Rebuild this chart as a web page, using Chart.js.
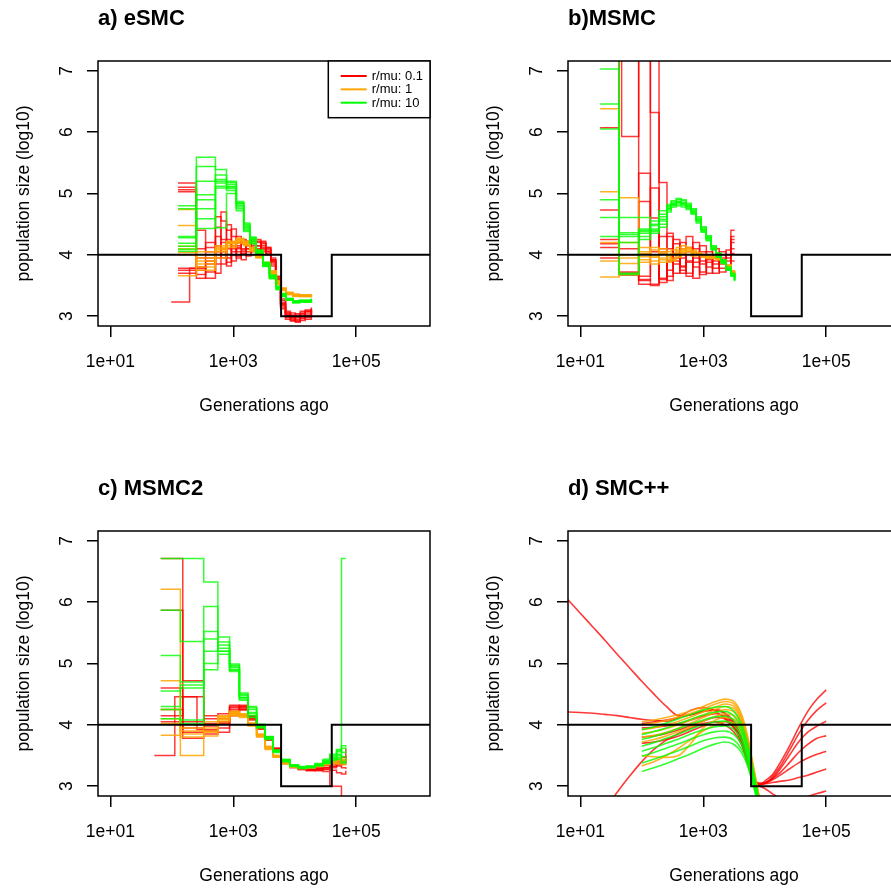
<!DOCTYPE html>
<html lang="en">
<head>
<meta charset="UTF-8">
<title>Inferred population size, four methods</title>
<script src="https://cdn.jsdelivr.net/npm/chart.js"></script>
<style>
  html, body { margin: 0; padding: 0; background: #fff; overflow: hidden; }
  body { width: 891px; height: 888px; position: relative; }
  canvas { position: absolute; }
</style>
</head>
<body>
<canvas id="pa" width="445" height="444" style="left:0;top:0"></canvas>
<canvas id="pb" width="445" height="444" style="left:470px;top:0"></canvas>
<canvas id="pc" width="445" height="444" style="left:0;top:470px"></canvas>
<canvas id="pd" width="445" height="444" style="left:470px;top:470px"></canvas>
<script>
// axes
const xTicks = [10, 1000, 100000];
const xTickLabels = ['1e+01', '1e+03', '1e+05'];
const yTicks = [3, 4, 5, 6, 7];
const xRange = [6.3096, 1584893];
const yRange = [2.84, 7.16];

// simulated history (log10 size): 10^4, bottleneck of 10^3, back to 10^4
const trueTimes = [1, 6000, 40000, 1e7];
const trueSizes = [4, 3, 4, 4];

const legendLabels = ['r/mu: 0.1', 'r/mu: 1', 'r/mu: 10'];
const legendColors = ['#ff0000', '#ffa500', '#00ff00'];

// ---- a) eSMC ----
const aTimes = [126, 251, 513, 776, 1122, 1479, 1862, 2344, 3020, 3890, 5012, 6026, 7244, 9333, 12023, 18621];
const aRedTimes = [126, 251, 355, 513, 631, 776, 933, 1122, 1349, 1622, 1950, 2344, 2818, 3388, 4074, 4898, 5888, 7079, 8511, 10233, 12303, 14791, 18621];
const aRedEarlyTimes = [98, 195, 355, 513, 631, 776, 933, 1122, 1349, 1622, 1950, 2344, 2818, 3388, 4074, 4898, 5888, 7079, 8511, 10233, 12303, 14791, 18621];
const aRed = [
  [5.17, 3.75, 3.90, 4.62, 4.55, 4.20, 4.05, 4.15, 4.20, 4.10, 4.18, 4.22, 4.12, 4.05, 3.90, 3.62, 3.22, 3.02, 2.95, 2.92, 3.00, 3.05, 3.10],
  [5.10, 4.40, 4.05, 3.85, 4.10, 4.49, 4.30, 3.95, 4.05, 4.22, 4.08, 4.15, 4.18, 4.00, 3.85, 3.58, 3.18, 3.05, 2.98, 3.02, 2.93, 3.08, 3.12],
  [5.03, 3.68, 3.72, 4.05, 4.70, 4.40, 3.90, 4.20, 4.10, 3.98, 4.25, 4.08, 4.20, 4.08, 3.95, 3.65, 3.25, 2.98, 3.05, 2.90, 3.05, 2.98, 3.06],
  [3.78, 4.10, 4.20, 3.70, 3.85, 4.10, 4.42, 4.05, 3.92, 4.15, 4.12, 4.20, 4.05, 4.12, 3.88, 3.55, 3.15, 3.08, 2.92, 3.00, 3.08, 2.95, 3.14],
  [3.75, 3.80, 3.62, 3.95, 4.20, 3.82, 4.15, 4.30, 4.18, 4.05, 4.00, 4.25, 4.15, 4.02, 3.92, 3.60, 3.20, 3.00, 3.02, 2.95, 2.98, 3.02, 3.08],
  [5.06, 3.62, 3.85, 4.45, 4.25, 3.95, 4.00, 4.10, 4.25, 4.18, 4.05, 4.10, 4.22, 4.10, 3.82, 3.52, 3.12, 2.95, 3.00, 3.04, 2.96, 3.10, 3.04],
  [3.70, 3.95, 4.12, 4.30, 3.95, 4.25, 4.10, 3.98, 4.08, 4.20, 4.15, 4.05, 4.10, 4.05, 3.90, 3.64, 3.28, 3.05, 2.97, 2.92, 3.02, 3.00, 3.10]
];
const aRedEarly = [3.23, 3.78, 3.95, 4.15, 4.05, 3.88, 4.20, 4.12, 4.02, 4.10, 4.22, 4.15, 4.08, 4.12, 3.92, 3.60, 3.20, 3.02, 2.93, 2.98, 3.04, 3.08, 3.12];
const aOrange = [
  [4.74, 3.95, 4.10, 4.20, 4.26, 4.20, 4.10, 3.99, 3.86, 3.72, 3.56, 3.45, 3.38, 3.35, 3.34, 3.35],
  [4.48, 3.85, 4.05, 4.18, 4.23, 4.18, 4.08, 3.97, 3.84, 3.70, 3.54, 3.44, 3.37, 3.34, 3.33, 3.34],
  [4.14, 4.05, 4.15, 4.22, 4.27, 4.22, 4.12, 4.01, 3.88, 3.74, 3.58, 3.46, 3.39, 3.36, 3.35, 3.36],
  [4.00, 3.80, 4.00, 4.15, 4.21, 4.17, 4.07, 3.96, 3.83, 3.69, 3.53, 3.43, 3.36, 3.33, 3.32, 3.33],
  [3.66, 3.90, 4.08, 4.19, 4.24, 4.19, 4.09, 3.98, 3.85, 3.71, 3.55, 3.44, 3.37, 3.34, 3.33, 3.34],
  [4.10, 4.00, 4.12, 4.21, 4.25, 4.21, 4.11, 4.00, 3.87, 3.73, 3.57, 3.45, 3.38, 3.35, 3.34, 3.35],
  [4.04, 3.75, 3.95, 4.12, 4.19, 4.15, 4.06, 3.95, 3.82, 3.68, 3.52, 3.42, 3.35, 3.32, 3.32, 3.33]
];
const aGreen = [
  [4.80, 5.59, 5.39, 5.20, 4.87, 4.50, 4.28, 4.07, 3.87, 3.66, 3.48, 3.36, 3.29, 3.25, 3.25, 3.27],
  [4.30, 5.44, 5.17, 5.15, 4.84, 4.46, 4.25, 4.05, 3.85, 3.64, 3.46, 3.34, 3.27, 3.23, 3.24, 3.26],
  [4.14, 4.98, 5.23, 5.10, 4.80, 4.42, 4.22, 4.03, 3.83, 3.62, 3.45, 3.33, 3.26, 3.22, 3.23, 3.25],
  [4.06, 4.75, 5.20, 5.05, 4.78, 4.44, 4.24, 4.06, 3.86, 3.65, 3.47, 3.35, 3.28, 3.24, 3.26, 3.28],
  [4.19, 4.59, 5.12, 5.12, 4.83, 4.48, 4.27, 4.04, 3.84, 3.63, 3.47, 3.36, 3.29, 3.25, 3.26, 3.29],
  [4.75, 4.43, 5.09, 5.08, 4.72, 4.40, 4.20, 4.02, 3.82, 3.62, 3.44, 3.33, 3.27, 3.23, 3.24, 3.27],
  [4.09, 4.90, 4.44, 5.00, 4.75, 4.38, 4.18, 4.01, 3.81, 3.61, 3.43, 3.32, 3.26, 3.22, 3.23, 3.25],
  [4.28, 5.20, 5.30, 5.18, 4.85, 4.52, 4.29, 4.08, 3.88, 3.67, 3.49, 3.37, 3.28, 3.24, 3.25, 3.28]
];

// ---- b) MSMC ----
const bTimes = [21, 43, 89, 138, 191, 257, 301, 363, 439, 528, 637, 769, 927, 1119, 1349, 1626, 1959, 2366, 2851, 3228];
const bRedTimes = [21, 43, 47, 89, 138, 191, 257, 324, 417, 525, 676, 871, 1122, 1413, 1820, 2344, 2818, 3236];
const bRed = [
  [6.07, 9.00, 5.93, 9.00, 6.32, 5.18, 4.30, 3.85, 4.10, 3.70, 3.95, 4.15, 3.80, 3.90, 4.05, 3.75, 4.40, 4.40],
  [4.73, 3.68, 3.68, 5.33, 4.05, 3.55, 3.90, 4.25, 3.70, 4.05, 3.62, 4.00, 3.88, 4.10, 3.78, 3.95, 4.20, 4.20],
  [4.18, 3.70, 3.70, 4.87, 4.60, 3.60, 4.35, 3.70, 3.95, 4.30, 3.80, 3.72, 4.05, 3.85, 4.00, 3.90, 4.10, 4.10],
  [4.12, 3.67, 3.67, 3.52, 3.50, 4.05, 3.58, 4.18, 3.80, 3.90, 4.10, 3.68, 3.95, 3.78, 3.92, 3.82, 4.30, 4.30],
  [4.00, 3.72, 3.72, 3.65, 5.09, 3.62, 4.10, 3.90, 4.20, 3.65, 3.88, 4.05, 3.70, 4.00, 3.85, 4.00, 4.02, 4.02],
  [3.95, 4.10, 4.10, 3.60, 3.52, 4.30, 3.75, 3.95, 3.82, 4.12, 4.00, 3.85, 3.92, 3.70, 3.95, 3.80, 3.90, 3.90],
  [4.25, 9.00, 9.00, 3.58, 9.00, 4.10, 3.65, 4.02, 3.75, 3.88, 4.20, 3.90, 4.00, 3.95, 3.72, 4.08, 4.25, 4.25]
];
const bOrange = [
  [6.38, 4.93, 4.05, 3.98, 3.92, 3.95, 4.00, 4.05, 4.08, 4.06, 4.02, 4.00, 3.97, 3.95, 3.96, 3.93, 3.90, 3.82, 3.72, 3.66],
  [5.03, 4.00, 3.92, 4.08, 4.02, 3.88, 3.95, 4.02, 4.10, 4.12, 4.08, 4.03, 4.00, 3.98, 3.94, 3.92, 3.88, 3.80, 3.70, 3.64],
  [4.20, 3.95, 4.12, 3.90, 3.95, 4.05, 4.08, 4.12, 4.15, 4.10, 4.05, 4.02, 4.00, 3.96, 3.95, 3.94, 3.90, 3.84, 3.74, 3.67],
  [4.00, 4.20, 3.88, 3.85, 4.05, 3.98, 3.90, 3.96, 4.02, 4.05, 4.06, 4.04, 4.01, 3.98, 3.97, 3.95, 3.91, 3.83, 3.73, 3.65],
  [3.90, 3.68, 3.97, 4.12, 3.88, 3.92, 4.02, 4.08, 4.04, 4.00, 3.98, 3.99, 3.98, 3.99, 3.96, 3.92, 3.89, 3.81, 3.71, 3.63],
  [3.64, 3.86, 4.02, 3.96, 4.10, 4.00, 3.92, 3.98, 4.06, 4.08, 4.04, 4.00, 3.96, 3.94, 3.95, 3.93, 3.87, 3.79, 3.70, 3.64]
];
const bGreen = [
  [7.03, 4.61, 4.61, 4.40, 4.62, 4.80, 4.86, 4.90, 4.88, 4.82, 4.74, 4.60, 4.44, 4.30, 4.14, 4.02, 3.91, 3.79, 3.69, 3.60],
  [6.46, 4.36, 4.30, 4.55, 4.72, 4.78, 4.82, 4.85, 4.83, 4.78, 4.70, 4.56, 4.40, 4.26, 4.10, 3.98, 3.88, 3.76, 3.66, 3.58],
  [6.05, 4.30, 4.38, 4.35, 4.45, 4.70, 4.78, 4.80, 4.78, 4.74, 4.66, 4.52, 4.37, 4.23, 4.08, 3.96, 3.86, 3.75, 3.65, 3.57],
  [4.90, 4.33, 4.42, 4.48, 4.58, 4.75, 4.84, 4.87, 4.85, 4.80, 4.72, 4.58, 4.42, 4.28, 4.12, 4.00, 3.89, 3.77, 3.67, 3.59],
  [4.61, 4.20, 4.35, 4.50, 4.66, 4.82, 4.88, 4.92, 4.90, 4.84, 4.75, 4.62, 4.46, 4.31, 4.15, 4.03, 3.92, 3.80, 3.70, 3.61],
  [4.30, 3.70, 4.40, 4.38, 4.50, 4.73, 4.80, 4.83, 4.81, 4.76, 4.68, 4.54, 4.38, 4.24, 4.09, 3.97, 3.87, 3.76, 3.66, 3.58],
  [8.50, 3.68, 4.25, 4.42, 4.55, 4.76, 4.82, 4.86, 4.84, 4.79, 4.70, 4.57, 4.41, 4.27, 4.11, 3.99, 3.88, 3.77, 3.67, 3.59]
];

// ---- c) MSMC2 ----
const cTimes = [66, 138, 331, 562, 871, 1259, 1738, 2399, 3311, 4467, 6026, 8318, 11482, 15488, 21380, 28840, 37154, 47863, 57544, 67608];
const cRedTimes = [66, 151, 331, 562, 871, 1259, 1738, 2399, 3311, 4467, 6026, 8318, 11482, 15488, 21380, 28840, 37154, 47863, 57544, 67608];
const cRedEarlyTimes = [52, 112, 257, 562, 871, 1259, 1738, 2399, 3311, 4467, 6026, 8318, 11482, 15488, 21380, 28840, 37154, 47863, 57544, 67608];
const cRed = [
  [6.71, 4.72, 3.90, 4.05, 4.28, 4.30, 4.12, 3.95, 3.78, 3.60, 3.40, 3.32, 3.28, 3.26, 3.25, 3.24, 3.00, 3.00, 2.80, 2.80],
  [5.87, 4.05, 4.10, 3.95, 4.30, 4.25, 4.15, 3.98, 3.80, 3.62, 3.42, 3.33, 3.29, 3.27, 3.28, 3.30, 3.32, 3.35, 3.30, 3.28],
  [4.25, 3.88, 4.02, 4.18, 4.25, 4.32, 4.10, 3.93, 3.75, 3.58, 3.38, 3.31, 3.27, 3.26, 3.27, 3.28, 3.26, 3.22, 3.20, 3.25],
  [4.15, 4.46, 3.85, 4.10, 4.22, 4.28, 4.08, 3.96, 3.77, 3.59, 3.41, 3.32, 3.28, 3.27, 3.29, 3.31, 3.36, 3.42, 3.47, 3.50],
  [4.05, 3.95, 4.15, 3.88, 4.32, 4.26, 4.13, 3.97, 3.79, 3.61, 3.39, 3.33, 3.29, 3.28, 3.30, 3.34, 3.38, 3.40, 3.36, 3.62],
  [4.60, 3.78, 3.98, 4.02, 4.18, 4.30, 4.14, 3.94, 3.76, 3.57, 3.37, 3.30, 3.27, 3.25, 3.26, 3.27, 3.30, 3.33, 3.40, 3.38]
];
const cRedEarly = [3.50, 4.46, 3.92, 4.05, 4.15, 4.24, 4.10, 3.97, 3.80, 3.62, 3.43, 3.33, 3.29, 3.27, 3.28, 3.30, 3.33, 3.38, 3.42, 3.45];
const cOrange = [
  [6.21, 3.85, 3.95, 4.12, 4.18, 4.15, 4.02, 3.85, 3.65, 3.50, 3.38, 3.32, 3.30, 3.31, 3.34, 3.38, 3.40, 3.42, 3.40, 3.42],
  [4.72, 3.50, 3.90, 4.10, 4.20, 4.18, 4.00, 3.82, 3.62, 3.48, 3.37, 3.31, 3.29, 3.30, 3.33, 3.36, 3.38, 3.36, 3.35, 3.38],
  [4.25, 3.95, 4.05, 4.15, 4.22, 4.16, 4.03, 3.84, 3.64, 3.49, 3.38, 3.32, 3.30, 3.32, 3.35, 3.39, 3.42, 3.45, 3.44, 3.46],
  [4.02, 3.80, 3.88, 4.05, 4.15, 4.12, 3.98, 3.80, 3.60, 3.47, 3.36, 3.31, 3.29, 3.30, 3.32, 3.35, 3.37, 3.38, 3.40, 3.39],
  [3.83, 4.00, 4.00, 4.14, 4.20, 4.17, 4.01, 3.83, 3.63, 3.50, 3.39, 3.33, 3.31, 3.31, 3.34, 3.37, 3.41, 3.43, 3.42, 3.40],
  [4.10, 3.90, 3.82, 4.08, 4.17, 4.14, 4.00, 3.81, 3.61, 3.48, 3.37, 3.31, 3.30, 3.31, 3.33, 3.36, 3.39, 3.41, 3.43, 3.41]
];
const cGreen = [
  [6.71, 6.71, 6.33, 5.20, 4.95, 4.45, 4.20, 3.98, 3.78, 3.57, 3.42, 3.33, 3.30, 3.31, 3.35, 3.40, 3.48, 3.56, 6.71, 6.71],
  [5.87, 5.36, 5.93, 5.43, 4.99, 4.50, 4.28, 4.00, 3.80, 3.58, 3.43, 3.34, 3.31, 3.32, 3.36, 3.42, 3.50, 3.60, 3.55, 3.58],
  [5.13, 4.70, 5.52, 5.30, 4.90, 4.42, 4.15, 3.96, 3.76, 3.55, 3.40, 3.32, 3.29, 3.30, 3.33, 3.38, 3.45, 3.52, 3.48, 3.50],
  [4.55, 4.60, 5.40, 5.20, 4.87, 4.40, 4.12, 3.95, 3.77, 3.56, 3.41, 3.33, 3.30, 3.31, 3.34, 3.37, 3.42, 3.47, 3.62, 3.60],
  [4.25, 4.08, 5.20, 5.25, 4.93, 4.48, 4.25, 3.99, 3.79, 3.58, 3.42, 3.34, 3.31, 3.32, 3.35, 3.39, 3.44, 3.50, 3.40, 3.45],
  [4.10, 4.02, 5.00, 5.15, 4.89, 4.44, 4.18, 3.97, 3.78, 3.57, 3.41, 3.33, 3.30, 3.31, 3.34, 3.41, 3.52, 3.58, 3.66, 3.64],
  [4.30, 4.65, 4.90, 5.35, 4.97, 4.52, 4.30, 4.01, 3.81, 3.59, 3.44, 3.35, 3.32, 3.33, 3.37, 3.44, 3.46, 3.44, 3.38, 3.40]
];

// ---- d) SMC++ ----
const dTimes = [100, 158, 251, 398, 631, 1000, 1585, 2239, 3162, 4169, 5248, 6607, 8318, 10471];
const dRedLongTimes = [6.31, 10, 15.85, 25.12, 39.81, 63.1, 100, 158, 251, 398, 631, 1000, 1585, 2239, 3162, 4169, 5248, 6607, 8318, 10471, 13183, 17783, 25119, 35481, 50119, 70795, 100000];
const dRedTimes = [100, 158, 251, 398, 631, 1000, 1585, 2239, 3162, 4169, 5248, 6607, 8318, 10471, 13183, 17783, 25119, 35481, 50119, 70795, 100000];
const dRedLong = [
  [6.04, 5.82, 5.60, 5.38, 5.15, 4.93, 4.71, 4.50, 4.30, 4.15, 4.16, 4.22, 4.25, 4.20, 4.05, 3.80, 3.45, 3.12, 3.02, 3.10, 3.18, 3.38, 3.65, 3.95, 4.22, 4.42, 4.57],
  [4.21, 4.20, 4.19, 4.17, 4.15, 4.12, 4.09, 4.07, 4.06, 4.12, 4.24, 4.28, 4.22, 4.10, 3.95, 3.72, 3.40, 3.10, 3.03, 3.06, 3.15, 3.32, 3.58, 3.85, 4.07, 4.24, 4.36],
  [1.90, 2.10, 2.35, 2.62, 2.90, 3.16, 3.40, 3.60, 3.75, 3.86, 3.95, 4.02, 4.05, 4.00, 3.88, 3.68, 3.38, 3.10, 3.02, 3.05, 3.12, 3.28, 3.50, 3.72, 3.88, 3.98, 4.06]
];
const dRed = [
  [4.02, 4.05, 4.08, 4.12, 4.17, 4.22, 4.24, 4.18, 4.02, 3.78, 3.45, 3.14, 3.04, 3.06, 3.12, 3.22, 3.38, 3.55, 3.68, 3.78, 3.82],
  [3.95, 3.96, 3.98, 4.02, 4.08, 4.14, 4.18, 4.14, 4.00, 3.76, 3.42, 3.12, 3.05, 3.06, 3.10, 3.18, 3.28, 3.38, 3.46, 3.52, 3.57],
  [3.80, 3.82, 3.86, 3.92, 3.99, 4.06, 4.12, 4.10, 3.98, 3.74, 3.40, 3.10, 3.04, 3.04, 3.06, 3.08, 3.10, 3.14, 3.18, 3.23, 3.28],
  [3.70, 3.72, 3.76, 3.82, 3.90, 3.98, 4.05, 4.05, 3.95, 3.72, 3.38, 3.08, 3.00, 2.95, 2.88, 2.80, 2.76, 2.78, 2.83, 2.88, 2.92]
];
const dOrange = [
  [4.05, 4.08, 4.12, 4.17, 4.23, 4.30, 4.38, 4.42, 4.38, 4.18, 3.82, 3.30, 2.78, 2.30],
  [4.00, 4.03, 4.07, 4.13, 4.19, 4.26, 4.34, 4.38, 4.34, 4.14, 3.79, 3.28, 2.77, 2.30],
  [3.92, 3.95, 4.00, 4.06, 4.13, 4.21, 4.29, 4.34, 4.30, 4.10, 3.76, 3.26, 2.76, 2.30],
  [3.86, 3.89, 3.94, 4.00, 4.08, 4.16, 4.25, 4.30, 4.26, 4.07, 3.73, 3.24, 2.75, 2.30],
  [3.80, 3.83, 3.88, 3.95, 4.03, 4.12, 4.20, 4.25, 4.21, 4.03, 3.70, 3.22, 2.74, 2.30],
  [3.72, 3.76, 3.82, 3.89, 3.97, 4.06, 4.14, 4.18, 4.15, 3.98, 3.66, 3.20, 2.73, 2.30],
  [3.50, 3.48, 3.47, 3.50, 3.70, 3.95, 4.08, 4.12, 4.09, 3.93, 3.63, 3.18, 2.72, 2.30],
  [3.33, 3.40, 3.50, 3.62, 3.76, 3.90, 4.00, 4.05, 4.03, 3.88, 3.60, 3.16, 2.71, 2.30]
];
const dGreen = [
  [3.92, 3.97, 4.03, 4.10, 4.17, 4.24, 4.29, 4.30, 4.22, 4.02, 3.70, 3.22, 2.72, 2.30],
  [3.84, 3.89, 3.95, 4.02, 4.09, 4.16, 4.21, 4.22, 4.14, 3.95, 3.64, 3.18, 2.70, 2.30],
  [3.76, 3.81, 3.87, 3.94, 4.01, 4.08, 4.13, 4.14, 4.07, 3.89, 3.59, 3.15, 2.68, 2.30],
  [3.65, 3.71, 3.78, 3.85, 3.93, 4.00, 4.05, 4.06, 3.99, 3.82, 3.54, 3.12, 2.66, 2.30],
  [3.57, 3.63, 3.70, 3.77, 3.85, 3.92, 3.97, 3.98, 3.92, 3.76, 3.49, 3.09, 2.65, 2.30],
  [3.49, 3.55, 3.62, 3.69, 3.77, 3.84, 3.89, 3.90, 3.84, 3.69, 3.44, 3.06, 2.63, 2.30],
  [3.38, 3.44, 3.51, 3.58, 3.66, 3.74, 3.79, 3.80, 3.75, 3.61, 3.38, 3.02, 2.61, 2.30],
  [3.24, 3.30, 3.37, 3.45, 3.53, 3.62, 3.69, 3.72, 3.68, 3.55, 3.33, 2.98, 2.60, 2.30]
];

const RED = 'rgba(255,0,0,0.78)';
const ORANGE = 'rgba(255,165,0,0.85)';
const GREEN = 'rgba(0,255,0,0.8)';
const FONT = '"Liberation Sans", Arial, Helvetica, sans-serif';

function points(times, vals) {
  return times.map((t, i) => ({ x: t, y: vals[i] }));
}

function steps(times, runs, color) {
  return runs.map(v => ({
    data: points(times, v), borderColor: color, borderWidth: 1.5,
    stepped: 'before', pointRadius: 0, fill: false
  }));
}

function curves(times, runs, color) {
  return runs.map(v => ({
    data: points(times, v), borderColor: color, borderWidth: 1.6,
    tension: 0.4, cubicInterpolationMode: 'monotone', pointRadius: 0, fill: false
  }));
}

function truth() {
  return {
    data: points(trueTimes, trueSizes), borderColor: '#000', borderWidth: 2,
    stepped: 'before', pointRadius: 0, fill: false
  };
}

// frame, axis text, panel title and (optionally) the legend
function decor(title, withLegend) {
  return {
    id: 'decor',
    afterDraw(chart) {
      const { ctx, chartArea: a, scales: { x, y } } = chart;
      ctx.save();
      ctx.strokeStyle = '#000';
      ctx.lineWidth = 1.5;
      ctx.strokeRect(a.left, a.top, a.right - a.left, a.bottom - a.top);

      ctx.fillStyle = '#000';
      ctx.font = 'bold 22px ' + FONT;
      ctx.textAlign = 'left';
      ctx.textBaseline = 'alphabetic';
      ctx.fillText(title, a.left, 25);

      ctx.font = '17.5px ' + FONT;
      ctx.textAlign = 'center';
      xTicks.forEach((v, i) => ctx.fillText(xTickLabels[i], x.getPixelForValue(v), a.bottom + 41));
      ctx.fillText('Generations ago', (a.left + a.right) / 2, a.bottom + 85);

      yTicks.forEach(v => {
        ctx.save();
        ctx.translate(a.left - 26.5, y.getPixelForValue(v));
        ctx.rotate(-Math.PI / 2);
        ctx.fillText(String(v), 0, 0);
        ctx.restore();
      });
      ctx.save();
      ctx.translate(a.left - 69.5, (a.top + a.bottom) / 2);
      ctx.rotate(-Math.PI / 2);
      ctx.fillText('population size (log10)', 0, 0);
      ctx.restore();

      if (withLegend) {
        const w = 101.7, h = 56.7, lx = a.right - w, ly = a.top;
        ctx.fillStyle = '#fff';
        ctx.fillRect(lx, ly, w, h);
        ctx.strokeStyle = '#000';
        ctx.lineWidth = 1.5;
        ctx.strokeRect(lx, ly, w, h);
        ctx.font = '13px ' + FONT;
        ctx.textAlign = 'left';
        ctx.textBaseline = 'middle';
        legendLabels.forEach((lab, i) => {
          const yy = ly + 15 + i * 13.35;
          ctx.strokeStyle = legendColors[i];
          ctx.lineWidth = 2;
          ctx.beginPath();
          ctx.moveTo(lx + 12.4, yy);
          ctx.lineTo(lx + 38.4, yy);
          ctx.stroke();
          ctx.fillStyle = '#000';
          ctx.fillText(lab, lx + 43.4, yy + 0.5);
        });
      }
      ctx.restore();
    }
  };
}

const tickGrid = { drawOnChartArea: false, drawTicks: true, tickLength: 11, color: '#000', lineWidth: 1.5 };

function panel(id, title, datasets, withLegend) {
  new Chart(document.getElementById(id), {
    type: 'line',
    data: { datasets: [truth(), ...datasets] },
    options: {
      responsive: false,
      animation: false,
      events: [],
      layout: { padding: { left: 86, top: 61, right: 15, bottom: 107 } },
      plugins: { legend: { display: false }, tooltip: { enabled: false } },
      scales: {
        x: {
          type: 'logarithmic', position: 'bottom', min: xRange[0], max: xRange[1],
          afterBuildTicks: s => { s.ticks = xTicks.map(v => ({ value: v })); },
          afterFit: s => { s.height = 11; },
          ticks: { display: false },
          grid: tickGrid,
          border: { display: false }
        },
        y: {
          type: 'linear', position: 'left', min: yRange[0], max: yRange[1],
          afterBuildTicks: s => { s.ticks = yTicks.map(v => ({ value: v })); },
          afterFit: s => { s.width = 12; },
          ticks: { display: false },
          grid: tickGrid,
          border: { display: false }
        }
      }
    },
    plugins: [decor(title, withLegend)]
  });
}

// first dataset is painted last, so the true history sits on top, then green, orange, red
panel('pa', 'a) eSMC', [
  ...steps(aTimes, aGreen, GREEN),
  ...steps(aTimes, aOrange, ORANGE),
  ...steps(aRedTimes, aRed, RED),
  ...steps(aRedEarlyTimes, [aRedEarly], RED)
], true);

panel('pb', 'b)MSMC', [
  ...steps(bTimes, bGreen, GREEN),
  ...steps(bTimes, bOrange, ORANGE),
  ...steps(bRedTimes, bRed, RED)
], false);

panel('pc', 'c) MSMC2', [
  ...steps(cTimes, cGreen, GREEN),
  ...steps(cTimes, cOrange, ORANGE),
  ...steps(cRedTimes, cRed, RED),
  ...steps(cRedEarlyTimes, [cRedEarly], RED)
], false);

panel('pd', 'd) SMC++', [
  ...curves(dTimes, dGreen, GREEN),
  ...curves(dTimes, dOrange, ORANGE),
  ...curves(dRedTimes, dRed, RED),
  ...curves(dRedLongTimes, dRedLong, RED)
], false);
</script>
</body>
</html>
